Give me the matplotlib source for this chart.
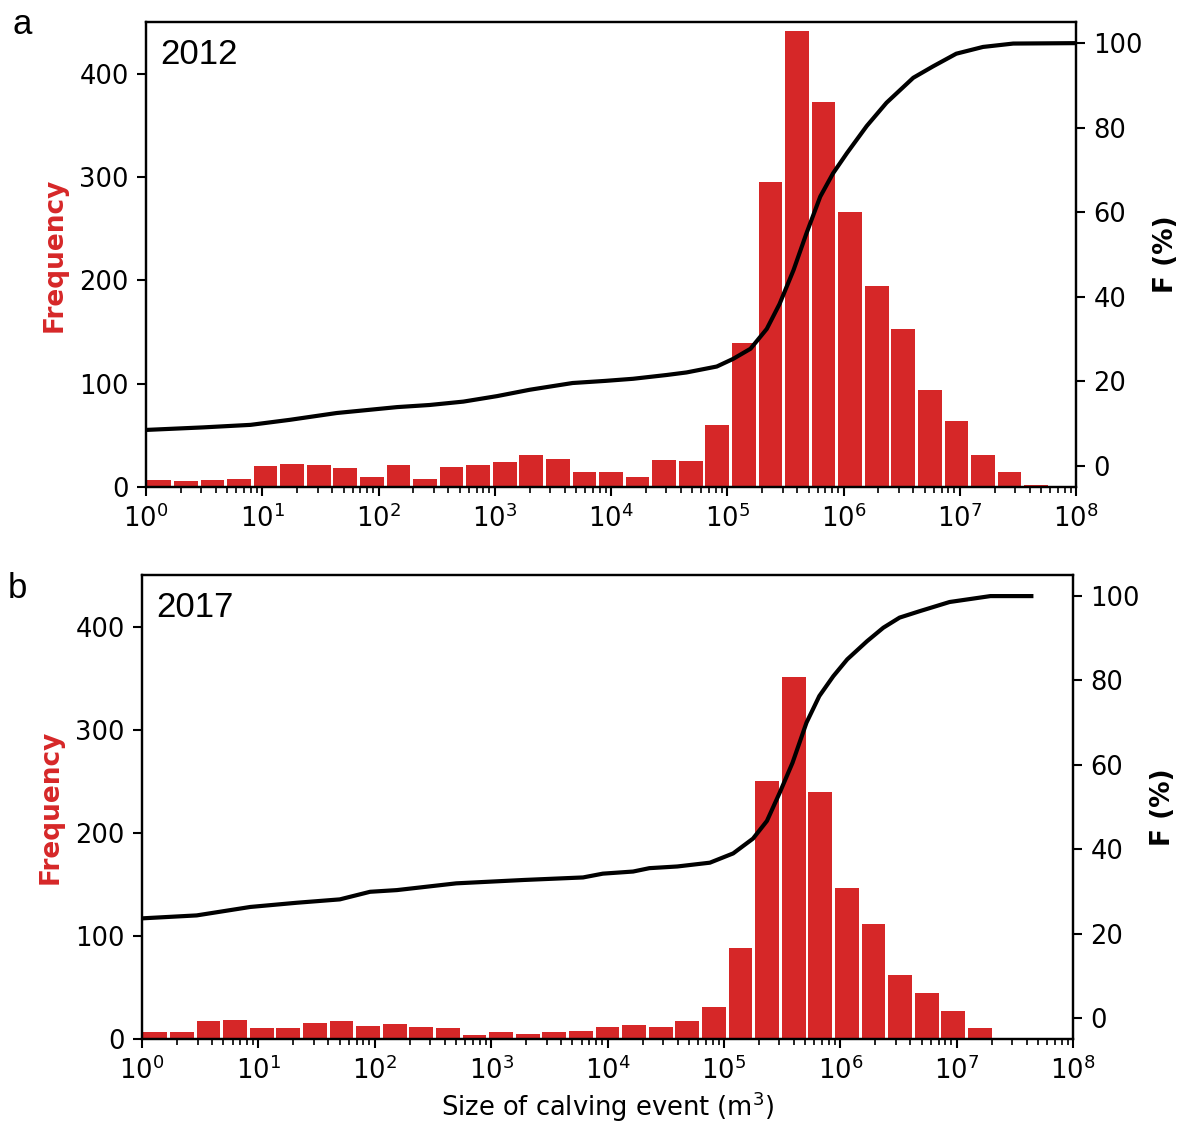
import numpy as np
import matplotlib
matplotlib.use("Agg")
import matplotlib.pyplot as plt

# ---------------- data ----------------
n_bins = 35
log_min, log_max = 0, 8

counts_2012 = [7, 6, 7, 8, 20, 22, 21, 18, 10, 21, 8, 19, 21, 24, 31, 27, 15, 15,
               10, 26, 25, 60, 139, 295, 441, 373, 266, 195, 153, 94, 64, 31, 15, 2, 0]
counts_2017 = [7, 7, 17, 18, 11, 11, 16, 17, 13, 15, 12, 11, 4, 7, 5, 7, 8, 12,
               14, 12, 17, 31, 88, 250, 351, 240, 146, 112, 62, 45, 27, 11, 0, 0, 0]

cdf_log_2012 = [0, 0.49, 0.9, 1.24, 1.64, 2.16, 2.44, 2.73, 3.02, 3.3, 3.67, 3.95,
                4.19, 4.48, 4.65, 4.91, 5.05, 5.20, 5.34, 5.45, 5.57, 5.68, 5.80,
                5.91, 6.03, 6.20, 6.37, 6.60, 6.77, 6.97, 7.20, 7.46, 8.0]
cdf_F_2012 = [8.5, 9.1, 9.7, 10.9, 12.5, 13.9, 14.4, 15.2, 16.5, 18.0, 19.6, 20.1,
              20.6, 21.5, 22.1, 23.5, 25.3, 27.7, 32.4, 38.3, 46.3, 54.9, 63.7,
              69.2, 74.0, 80.4, 85.9, 91.8, 94.5, 97.5, 99.1, 99.9, 100]

cdf_log_2017 = [0, 0.47, 0.93, 1.33, 1.70, 1.96, 2.19, 2.70, 3.28, 3.79, 3.96, 4.22,
                4.36, 4.6, 4.88, 5.08, 5.25, 5.37, 5.48, 5.59, 5.71, 5.82, 5.94,
                6.06, 6.23, 6.37, 6.51, 6.68, 6.94, 7.29, 7.66]
cdf_F_2017 = [23.6, 24.3, 26.3, 27.3, 28.1, 29.9, 30.3, 31.9, 32.7, 33.3, 34.2, 34.7,
              35.5, 35.9, 36.8, 39.0, 42.5, 46.7, 53.4, 60.5, 70.0, 76.3, 81.0,
              85.0, 89.3, 92.5, 94.9, 96.4, 98.6, 100, 100]

years = ["2012", "2017"]
panel_letters = ["a", "b"]
freq_ticks = [0, 100, 200, 300, 400]
F_ticks = [0, 20, 40, 60, 80, 100]
xlabel = "Size of calving event (m$^3$)"

# ---------------- figure ----------------
W, H = 1179, 1122
fig = plt.figure(figsize=(W / 100, H / 100), dpi=100)

red = "#d62728"
tick_fs = 18.5
label_fs = 19

positions = [
    [146 / W, 1 - 487 / H, (1076 - 146) / W, (487 - 22) / H],
    [142 / W, 1 - 1039 / H, (1073 - 142) / W, (1039 - 575) / H],
]
letter_pos = [(12 / W, 1 - 8 / H), (8 / W, 1 - 572 / H)]

edges = np.logspace(log_min, log_max, n_bins + 1)
gap = 10 ** 0.0125  # small visual gap on each side of a bar (in log space)
bar_left = edges[:-1] * gap
bar_width = edges[1:] / gap - bar_left

datasets = [
    (counts_2012, cdf_log_2012, cdf_F_2012),
    (counts_2017, cdf_log_2017, cdf_F_2017),
]

for i, (counts, clog, cF) in enumerate(datasets):
    ax = fig.add_axes(positions[i])
    ax.bar(bar_left, counts, width=bar_width, align="edge", color=red,
           linewidth=0, zorder=2)
    ax.set_xscale("log")
    ax.set_xlim(10 ** log_min, 10 ** log_max)
    ax.set_ylim(0, 450)
    ax.set_yticks(freq_ticks)
    ax.set_ylabel("Frequency", color=red, fontweight="bold", fontsize=label_fs,
                  labelpad=8)

    ax2 = ax.twinx()
    ax2.plot(10 ** np.array(clog), cF, color="black", lw=3.0, zorder=3,
             solid_capstyle="butt")
    ax2.set_ylim(-5, 105)
    ax2.set_yticks(F_ticks)
    ax2.set_ylabel("F (%)", fontweight="bold", fontsize=label_fs, labelpad=7)
    ax2.set_xlim(10 ** log_min, 10 ** log_max)

    for a in (ax, ax2):
        for s in a.spines.values():
            s.set_linewidth(1.6)
        a.tick_params(which="major", length=6.5, width=1.5, labelsize=tick_fs, pad=6)
        a.tick_params(which="minor", length=4, width=1.2)

    ax.text(0.015, 0.965, years[i], transform=ax.transAxes, va="top", ha="left",
            fontsize=25, family="Liberation Sans")
    fig.text(letter_pos[i][0], letter_pos[i][1], panel_letters[i], va="top",
             ha="left", fontsize=25, family="Liberation Sans")

    if i == 1:
        ax.set_xlabel(xlabel, fontsize=tick_fs, labelpad=3)

fig.savefig("out.png", dpi=100)
